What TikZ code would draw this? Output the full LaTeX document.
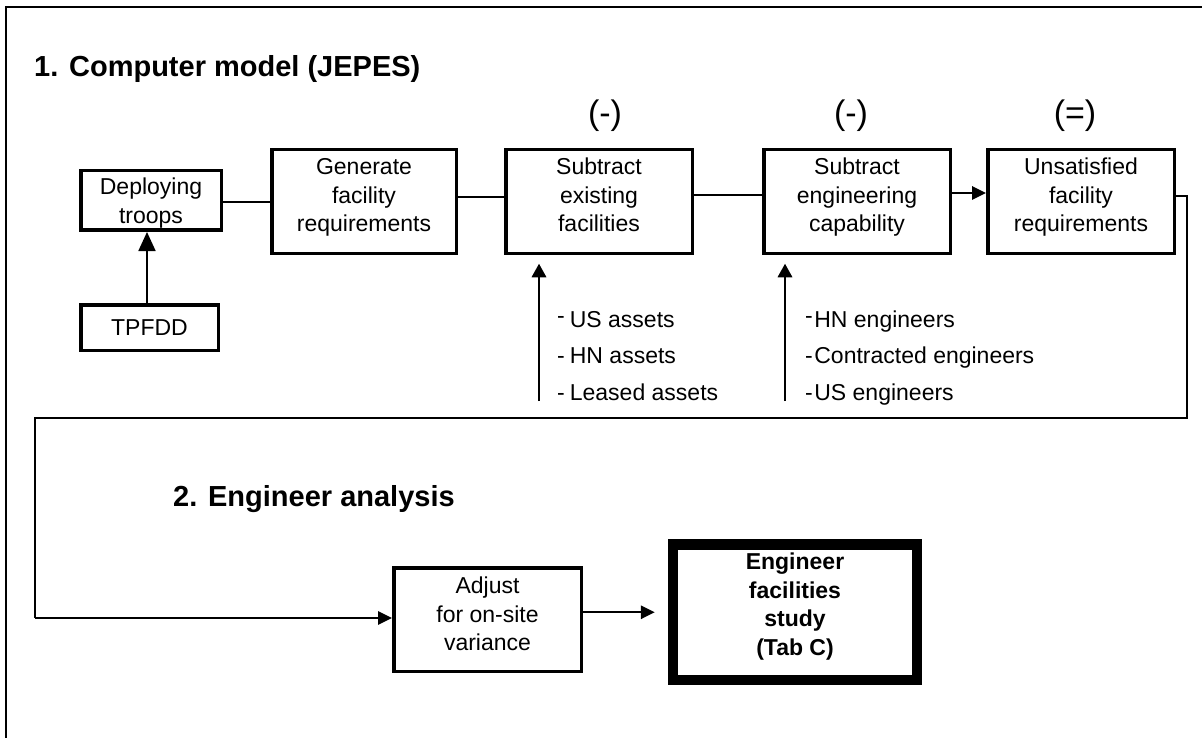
\documentclass[tikz,border=0pt]{standalone}
\usepackage{fontspec}
\setmainfont{Liberation Sans}
\usetikzlibrary{arrows.meta}
\tikzset{
  box/.style={draw, line width=3.5pt, align=center, inner sep=0pt,
    font=\fontsize{23}{28.5}\selectfont},
  conn/.style={line width=1.8pt},
  loopline/.style={line width=1.6pt},
  frameline/.style={line width=2.5pt},
  bigarr/.style={-{Triangle[length=19pt,width=17pt]}},
  midarr/.style={-{Triangle[length=13.5pt,width=14.5pt]}},
  smallarr/.style={-{Triangle[length=14pt,width=13.5pt]}},
  title/.style={anchor=base west, inner sep=0pt, font=\fontsize{29}{34}\selectfont\bfseries},
  op/.style={anchor=base, inner sep=0pt, font=\fontsize{34}{40}\selectfont},
  item/.style={anchor=base west, inner sep=0pt, font=\fontsize{23}{28}\selectfont}
}
\begin{document}
\begin{tikzpicture}[x=1pt,y=-1pt]
\useasboundingbox (0,0) rectangle (1202,738);
% outer frame (cropped)
\draw[frameline] (6,738) -- (6,7) -- (1202,7);

% titles
\node[title] (t1) at (34,77) {1. Computer model (JEPES)};
\node[title] (t2) at (173,506) {2. Engineer analysis};

% boxes
\node[box, minimum width=140.5pt, minimum height=59.5pt, text depth=0pt] (dep) at (151,200.5) {Deploying\\troops};
\node[box, minimum width=137.5pt, minimum height=45.5pt] (tpf) at (149.5,327.5) {TPFDD};
\node[box, minimum width=184.5pt, minimum height=103.5pt, text depth=13pt] (gen) at (364,201.5) {Generate\\facility\\requirements};
\node[box, minimum width=186.5pt, minimum height=103.5pt, text depth=13pt] (sub1) at (599,201.5) {Subtract\\existing\\facilities};
\node[box, minimum width=186.5pt, minimum height=103.5pt, text depth=13pt] (sub2) at (857,201.5) {Subtract\\engineering\\capability};
\node[box, minimum width=186.5pt, minimum height=103.5pt, text depth=13pt] (uns) at (1081,201.5) {Unsatisfied\\facility\\requirements};
\node[box, minimum width=187.5pt, minimum height=103.5pt, text depth=11pt] (adj) at (487.5,619.5) {Adjust\\for on-site\\variance};
\node[box, line width=10.5pt, font=\fontsize{23}{28.5}\selectfont\bfseries, minimum width=244pt, minimum height=135.5pt, text depth=16pt] (eng) at (795,612.25) {Engineer\\facilities\\study\\(Tab C)};

% operators
\node[op] (op1) at (605,125) {(-)};
\node[op] (op2) at (851,125) {(-)};
\node[op] (op3) at (1075,125) {(=)};

% lists
\node[item] (a1) at (557,327) {\raisebox{4pt}{-}\hspace{5pt}US assets};
\node[item] (a2) at (557,363) {-\hspace{5pt}HN assets};
\node[item] (a3) at (557,400) {-\hspace{5pt}Leased assets};
\node[item] (e1) at (805,327) {\raisebox{4pt}{-}\hspace{1.5pt}HN engineers};
\node[item] (e2) at (805,363) {-\hspace{1.5pt}Contracted engineers};
\node[item] (e3) at (805,400) {-\hspace{1.5pt}US engineers};

% connectors, top row
\draw[conn] ([yshift=-1.5pt]dep.east) -- ([yshift=-1.5pt]dep.east -| gen.west);
\draw[conn] ([yshift=4.5pt]gen.east) -- ([yshift=4.5pt]gen.east -| sub1.west);
\draw[conn] ([yshift=6.5pt]sub1.east) -- ([yshift=6.5pt]sub1.east -| sub2.west);
\draw[conn, smallarr] ([yshift=8.5pt]sub2.east) -- ([yshift=8.5pt]sub2.east -| uns.west);
\draw[conn, bigarr] (tpf.north -| 147,0) -- (dep.south -| 147,0);

% input arrows
\coordinate (s1in) at (539,401);
\coordinate (s2in) at (785,401);
\draw[conn, midarr, shorten >=8.75pt] (s1in) -- (s1in |- sub1.south);
\draw[conn, midarr, shorten >=8.75pt] (s2in) -- (s2in |- sub2.south);

% loop to part 2
\coordinate (lr) at (1187,418);
\coordinate (ll) at (35,418);
\coordinate (lb) at (35,618);
\draw[loopline] ([yshift=5.5pt]uns.east) -| (lr) -- (ll) -- (lb);
\draw[loopline, smallarr] (lb) -- (lb -| adj.west);
\draw[conn, smallarr, shorten >=13pt] (adj.east |- eng.west) -- (eng.west);
\end{tikzpicture}
\end{document}
